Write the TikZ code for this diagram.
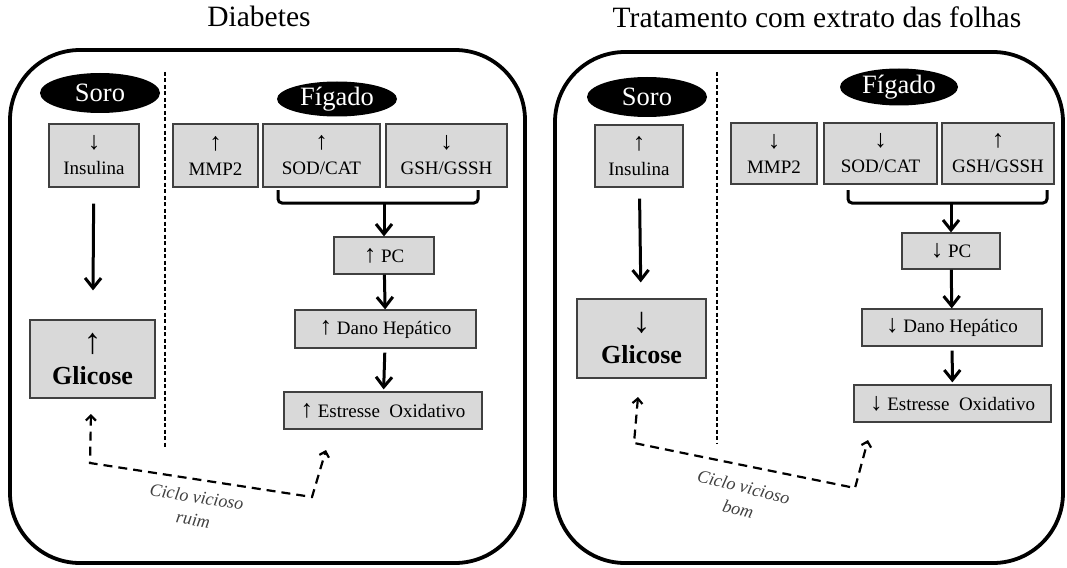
\documentclass[tikz,border=0pt]{standalone}
\usepackage{fontspec}
\setmainfont{Liberation Serif}
\usetikzlibrary{shapes.geometric,arrows.meta}
\newcommand\myup{{\fontsize{25}{25}\selectfont ↑}}
\newcommand\mydn{{\fontsize{25}{25}\selectfont ↓}}
\newcommand\bigup{{\fontsize{36}{36}\selectfont ↑}}
\newcommand\bigdn{{\fontsize{36}{36}\selectfont ↓}}
\begin{document}
\begin{tikzpicture}[x=1pt,y=-1pt,
  panel/.style={line width=3.8pt, rounded corners=70pt},
  box/.style={draw=black!75, fill=black!15, line width=1.2pt, rectangle, inner sep=0pt, align=center, font=\fontsize{19}{25}\selectfont},
  bigbox/.style={box, font=\bfseries\fontsize{26}{31}\selectfont},
  organ/.style={ellipse, fill=black, text=white, inner sep=0pt, font=\fontsize{26.5}{28}\selectfont},
  title/.style={font=\fontsize{29.5}{31}\selectfont, anchor=base},
  divider/.style={line width=1.5pt, dash pattern=on 4pt off 2.5pt},
  flow/.style={line width=3pt, -{Straight Barb[length=10pt,width=16pt]}},
  brace/.style={line width=3pt, rounded corners=4pt},
  cyc/.style={line width=2.2pt, dash pattern=on 9pt off 6pt, {Straight Barb[length=5pt,width=10pt]}-{Straight Barb[length=5pt,width=10pt]}},
  cyclab/.style={font=\itshape\fontsize{18}{23}\selectfont, text=black!75, align=center}
]
\useasboundingbox (0,0) rectangle (1067,567);

% ---------- titles ----------
\node[title] (t1) at (259,27) {Diabetes};
\node[title] (t2) at (817,28) {Tratamento com extrato das folhas};

% ---------- panels ----------
\draw[panel] (10,50) rectangle (525,563);
\draw[panel] (555,52) rectangle (1063,563);

% ---------- left panel ----------
\node[organ, minimum width=120pt, minimum height=40pt] (soro1) at (100,93) {Soro};
\node[organ, minimum width=120pt, minimum height=35pt] (fig1) at (337,99) {Fígado};
\draw[divider] (165,72) -- (165,447);

\node[box, minimum width=90pt, minimum height=63pt] (ins1) at (94,155.5) {\mydn\\Insulina};
\node[box, minimum width=85pt, minimum height=63pt] (mmp1) at (215.5,155.5) {\myup\\MMP2};
\node[box, minimum width=117pt, minimum height=63pt] (sod1) at (321.5,155.5) {\myup\\SOD/CAT};
\node[box, minimum width=121pt, minimum height=63pt] (gsh1) at (446.5,155.5) {\mydn\\GSH/GSSH};
\node[box, minimum width=100pt, minimum height=37pt] (pc1) at (384,255.5) {\myup\ PC};
\node[box, minimum width=181pt, minimum height=38pt] (dano1) at (385.5,329) {\myup\ Dano Hepático};
\node[box, minimum width=198pt, minimum height=37pt] (est1) at (383,410.5) {\myup\ Estresse\ \ Oxidativo};
\node[bigbox, minimum width=125pt, minimum height=78pt] (gli1) at (92.5,359) {\bigup\\Glicose};

\draw[flow, shorten <=16pt, shorten >=29pt] (ins1) -- (gli1);
\coordinate (b1l) at (278,190);
\coordinate (b1r) at (478,190);
\coordinate (b1m) at (384,203);
\draw[brace] (b1l) -- (278,203) -- (478,203) -- (b1r);
\draw[flow] (b1m) -- (pc1);
\draw[flow] (pc1) -- (dano1);
\draw[flow, shorten <=4pt, shorten >=2pt] (dano1) -- (est1);

\coordinate (c1a) at (91,414);
\coordinate (c1b) at (90,463);
\coordinate (c1c) at (312,497);
\coordinate (c1d) at (326,450);
\draw[cyc] (c1a) -- (c1b) -- (c1c) -- (c1d);
\node[cyclab, rotate=-9] (lab1) at (195,508) {Ciclo vicioso\\ruim};

% ---------- right panel ----------
\node[organ, minimum width=120pt, minimum height=40pt] (soro2) at (647,97) {Soro};
\node[organ, minimum width=118pt, minimum height=37pt] (fig2) at (899,87) {Fígado};
\draw[divider] (717,72) -- (717,443);

\node[box, minimum width=88pt, minimum height=62pt] (ins2) at (639,156) {\myup\\Insulina};
\node[box, minimum width=86pt, minimum height=61pt] (mmp2) at (774,153.5) {\mydn\\MMP2};
\node[box, minimum width=113pt, minimum height=61pt] (sod2) at (880.5,153.5) {\mydn\\SOD/CAT};
\node[box, minimum width=112pt, minimum height=61pt] (gsh2) at (998,153.5) {\myup\\GSH/GSSH};
\node[box, minimum width=98pt, minimum height=36pt] (pc2) at (951,251) {\mydn\ PC};
\node[box, minimum width=180pt, minimum height=37pt] (dano2) at (952,327.5) {\mydn\ Dano Hepático};
\node[box, minimum width=197pt, minimum height=37pt] (est2) at (952.5,403.5) {\mydn\ Estresse\ \ Oxidativo};
\node[bigbox, minimum width=129pt, minimum height=79pt] (gli2) at (641.5,338.5) {\bigdn\\Glicose};

\draw[flow, shorten <=11pt, shorten >=16pt] (ins2) -- (gli2);
\coordinate (b2l) at (848,190);
\coordinate (b2r) at (1047,190);
\coordinate (b2m) at (951,203);
\draw[brace] (b2l) -- (848,203) -- (1047,203) -- (b2r);
\draw[flow] (b2m) -- (pc2);
\draw[flow] (pc2) -- (dano2);
\draw[flow, shorten <=4pt, shorten >=2pt] (dano2) -- (est2);

\coordinate (c2a) at (638,397);
\coordinate (c2b) at (634,443);
\coordinate (c2c) at (855,488);
\coordinate (c2d) at (868,440);
\draw[cyc] (c2a) -- (c2b) -- (c2c) -- (c2d);
\node[cyclab, rotate=-14] (lab2) at (741,498) {Ciclo vicioso\\bom};
\end{tikzpicture}
\end{document}
